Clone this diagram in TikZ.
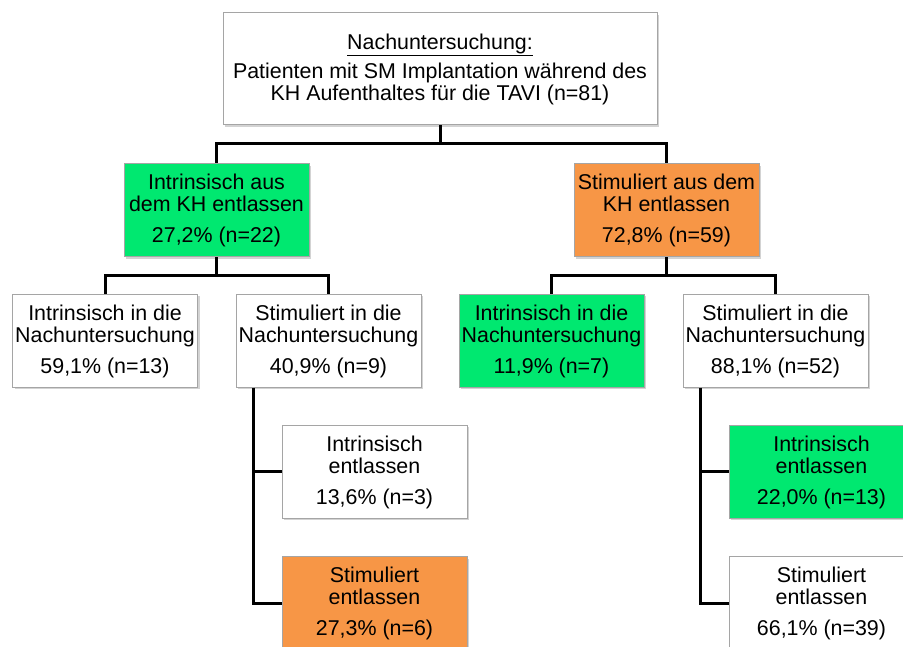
\documentclass[tikz,border=0pt]{standalone}
\usepackage{fontspec}
\setmainfont{Liberation Sans}
\usetikzlibrary{shadows}
\definecolor{boxgreen}{RGB}{0,232,112}
\definecolor{boxorange}{RGB}{247,150,70}
\definecolor{boxline}{RGB}{165,165,165}
\tikzset{
  box/.style={draw=boxline, line width=1pt, fill=white, minimum width=185pt,
    minimum height=93pt, align=center, inner sep=0pt,
    font=\fontsize{21.4}{22}\selectfont,
    drop shadow={shadow xshift=2pt, shadow yshift=-2pt, opacity=0.35, fill=black!50}},
  green box/.style={box, fill=boxgreen},
  orange box/.style={box, fill=boxorange},
  conn/.style={line width=3pt, black},
}
\begin{document}
\begin{tikzpicture}[x=1pt, y=1pt]
  \useasboundingbox (0,0) rectangle (903,646);
  \clip (0,0) rectangle (903,646);
  % Ausgangsgruppe
  \node[box, minimum width=434pt, minimum height=112pt] (top) at (440,577)
    {\underline{Nachuntersuchung:}\\[7pt]Patienten mit SM Implantation während des\\KH Aufenthaltes für die TAVI (n=81)};
  % Entlassung aus dem KH
  \node[green box] (intr) at (216.5,435.5) {Intrinsisch aus\\dem KH entlassen\\[9pt]27,2\% (n=22)};
  \node[orange box] (stim) at (666.5,435.5) {Stimuliert aus dem\\KH entlassen\\[9pt]72,8\% (n=59)};
  % Nachuntersuchung
  \node[box] (intrA) at (105,305) {Intrinsisch in die\\Nachuntersuchung\\[9pt]59,1\% (n=13)};
  \node[box] (intrB) at (328.5,305) {Stimuliert in die\\Nachuntersuchung\\[9pt]40,9\% (n=9)};
  \node[green box] (stimA) at (551.5,305) {Intrinsisch in die\\Nachuntersuchung\\[9pt]11,9\% (n=7)};
  \node[box] (stimB) at (775.5,305) {Stimuliert in die\\Nachuntersuchung\\[9pt]88,1\% (n=52)};
  % Entlassung nach der Nachuntersuchung
  \node[box] (intrBa) at (374.5,174) {Intrinsisch\\entlassen\\[9pt]13,6\% (n=3)};
  \node[orange box] (intrBb) at (374.5,43) {Stimuliert\\entlassen\\[9pt]27,3\% (n=6)};
  \node[green box] (stimBa) at (821.5,174) {Intrinsisch\\entlassen\\[9pt]22,0\% (n=13)};
  \node[box] (stimBb) at (821.5,43) {Stimuliert\\entlassen\\[9pt]66,1\% (n=39)};
  % Verbindungen
  \draw[conn] (top.south) -- ++(0,-18) -| (intr.north);
  \draw[conn] (top.south) -- ++(0,-18) -| (stim.north);
  \draw[conn] (intr.south) -- ++(0,-18.5) -| (intrA.north);
  \draw[conn] (intr.south) -- ++(0,-18.5) -| (intrB.north);
  \draw[conn] (stim.south) -- ++(0,-18.5) -| (stimA.north);
  \draw[conn] (stim.south) -- ++(0,-18.5) -| (stimB.north);
  \draw[conn] ([xshift=18pt]intrB.south west) |- (intrBa.west);
  \draw[conn] ([xshift=18pt]intrB.south west) |- (intrBb.west);
  \draw[conn] ([xshift=18pt]stimB.south west) |- (stimBa.west);
  \draw[conn] ([xshift=18pt]stimB.south west) |- (stimBb.west);
\end{tikzpicture}
\end{document}
